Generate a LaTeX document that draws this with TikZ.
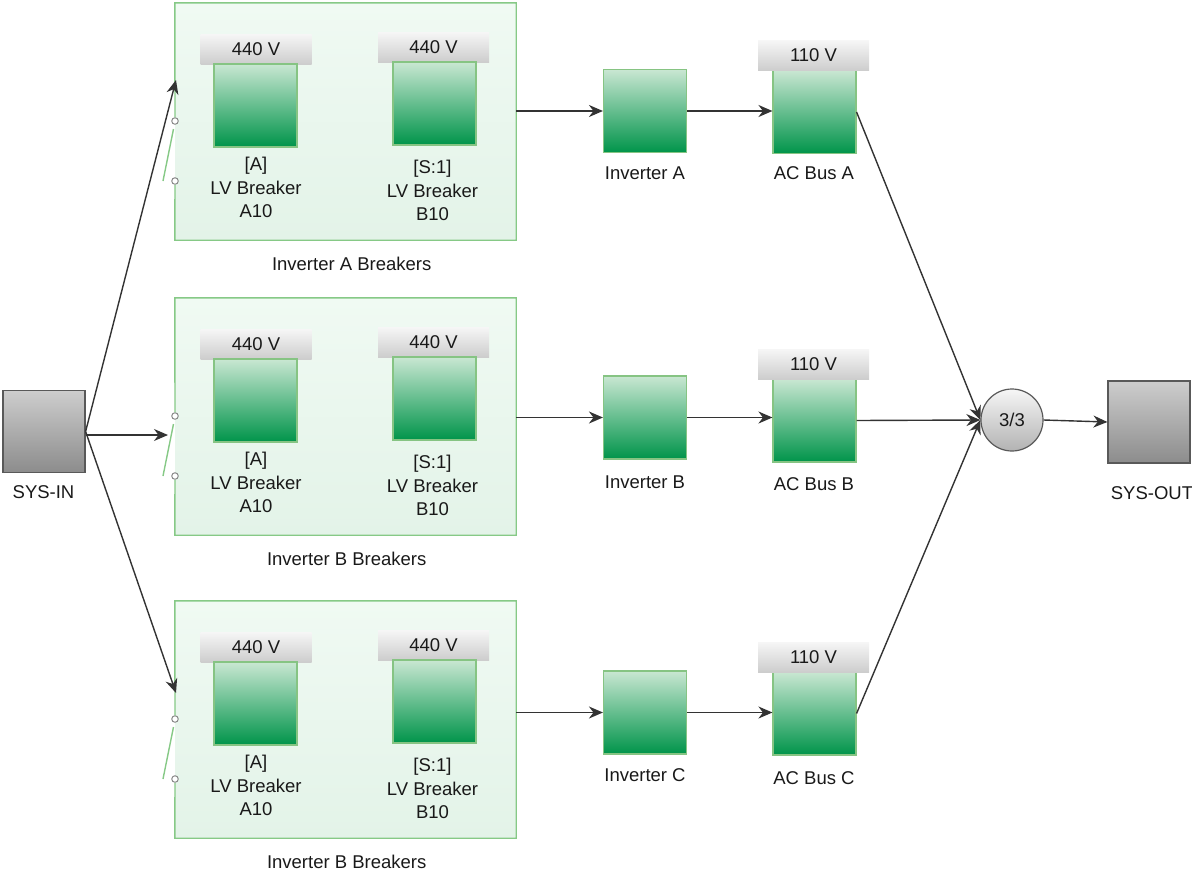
\documentclass[tikz,border=0pt]{standalone}
\usepackage{fontspec}
\setmainfont{Liberation Sans}
\usetikzlibrary{arrows.meta}

\definecolor{grpfillT}{HTML}{F0FAF3}
\definecolor{grpfillB}{HTML}{E3F3E8}
\definecolor{grpline}{HTML}{86C986}
\definecolor{boxT}{HTML}{C9E7D2}
\definecolor{boxB}{HTML}{00944A}
\definecolor{boxline}{HTML}{86C483}
\definecolor{hdrT}{HTML}{F6F6F6}
\definecolor{hdrB}{HTML}{CDCDCD}
\definecolor{sysT}{HTML}{CDCDCD}
\definecolor{sysB}{HTML}{8C8C8C}
\definecolor{edge}{HTML}{333333}
\definecolor{pin}{HTML}{8A8A8A}

\tikzset{
  txt/.style={font=\fontsize{18.5}{23.5}\selectfont, text=black!90, inner sep=0pt, align=center},
  group/.style={top color=grpfillT, bottom color=grpfillB, draw=none,
    minimum width=341pt, minimum height=237pt, inner sep=0pt},
  grpedge/.style={draw=grpline, line width=1.4pt},
  greenbox/.style={top color=boxT, bottom color=boxB, draw=boxline, line width=1.1pt,
    minimum width=83pt, minimum height=83pt, inner sep=0pt},
  header/.style={top color=hdrT, bottom color=hdrB, draw=none,
    minimum width=111pt, minimum height=30pt, inner sep=0pt, txt},
  sysbox/.style={top color=sysT, bottom color=sysB, draw=black!65, line width=1.2pt,
    minimum width=82pt, minimum height=82pt, inner sep=0pt},
  kofn/.style={circle, top color=hdrT, bottom color=black!30, draw=black!65, line width=1.2pt,
    minimum size=62pt, inner sep=0pt, txt},
  pinc/.style={circle, fill=white, draw=pin, line width=1pt, minimum size=6.5pt, inner sep=0pt},
  conn/.style={draw=edge, line width=1.4pt, -{Stealth[length=14pt,width=12pt,inset=4.5pt]}},
}

\begin{document}
\begin{tikzpicture}[x=1pt, y=-1pt]
\useasboundingbox (0,0) rectangle (1192,873);

% breaker groups: fill, two breakers each, and the input switch on the left edge
\foreach \g/\T/\lab/\lx in {A/3/Inverter A Breakers/351.7, B/298/Inverter B Breakers/346.7, C/601/Inverter B Breakers/346.7} {
  \node[group] (grp\g) at (345.5,\T+118.5) {};
  \node[pinc] (sw\g a) at (175,\T+118) {};
  \node[pinc] (sw\g b) at (175,\T+178) {};
  \draw[grpedge] (sw\g a.north) -- (grp\g.north west) -- (grp\g.north east)
     -- (grp\g.south east) -- (grp\g.south west) -- (sw\g b.south);
  \draw[draw=grpline, line width=1.4pt] (173.5,\T+126) -- (163,\T+178);
  % breaker A10
  \node[header] (hd\g1) at (256,\T+46) {440 V};
  \node[greenbox] (brk\g1) at (255.5,\T+102.5) {};
  \node[txt] (lb\g1) at (256,\T+184.5) {[A]\\LV Breaker\\A10};
  % breaker B10
  \node[header] (hd\g2) at (433.5,\T+44) {440 V};
  \node[greenbox] (brk\g2) at (434.5,\T+100.5) {};
  \node[txt] (lb\g2) at (432.5,\T+187.5) {[S:1]\\LV Breaker\\B10};
  \node[txt] (gl\g) at (\lx,\T+261) {\lab};
}

% inverters
\node[greenbox] (invA) at (645,111) {};
\node[greenbox] (invB) at (645,417.5) {};
\node[greenbox] (invC) at (645,712.5) {};
\node[txt] at (645,173) {Inverter A};
\node[txt] at (645,482) {Inverter B};
\node[txt] at (645,775) {Inverter C};

% AC buses
\node[greenbox] (busA) at (814.5,112) {};
\node[greenbox] (busB) at (814.5,420.5) {};
\node[greenbox] (busC) at (814.5,713.5) {};
\node[header] (hbA) at (813.5,55.5) {110 V};
\node[header] (hbB) at (813.5,364) {110 V};
\node[header] (hbC) at (813.5,657) {110 V};
\node[txt] at (814,173) {AC Bus A};
\node[txt] at (814,484) {AC Bus B};
\node[txt] at (814,778) {AC Bus C};

% system terminals and voting gate
\node[sysbox] (sysin) at (44,431.5) {};
\node[txt] at (43.5,492) {SYS-IN};
\node[kofn] (vote) at (1012,420) {3/3};
\node[sysbox] (sysout) at (1149,422) {};
\node[txt] at (1152,493) {SYS-OUT};

% switch contact points
\coordinate (inA) at (176,80);
\coordinate (inB) at (168,435);
\coordinate (inC) at (176,693);

% connectors
\draw[conn] (sysin.east) -- (inA);
\draw[conn] (sysin.east |- inB) -- (inB);
\draw[conn] (sysin.east) -- (inC);

\draw[conn] (grpA.east |- invA.west) -- (invA.west);
\draw[conn] (grpB.east |- invB.west) -- (invB.west);
\draw[conn] (grpC.east |- invC.west) -- (invC.west);

\draw[conn] (invA.east) -- (busA.west |- invA.east);
\draw[conn] (invB.east) -- (busB.west |- invB.east);
\draw[conn] (invC.east) -- (busC.west |- invC.east);

\draw[conn] (busA.east) -- (vote.west);
\draw[conn] (busB.east) -- (vote.west);
\draw[conn] (busC.east) -- (vote.west);

\draw[conn] (vote.east) -- (sysout.west);
\end{tikzpicture}
\end{document}
